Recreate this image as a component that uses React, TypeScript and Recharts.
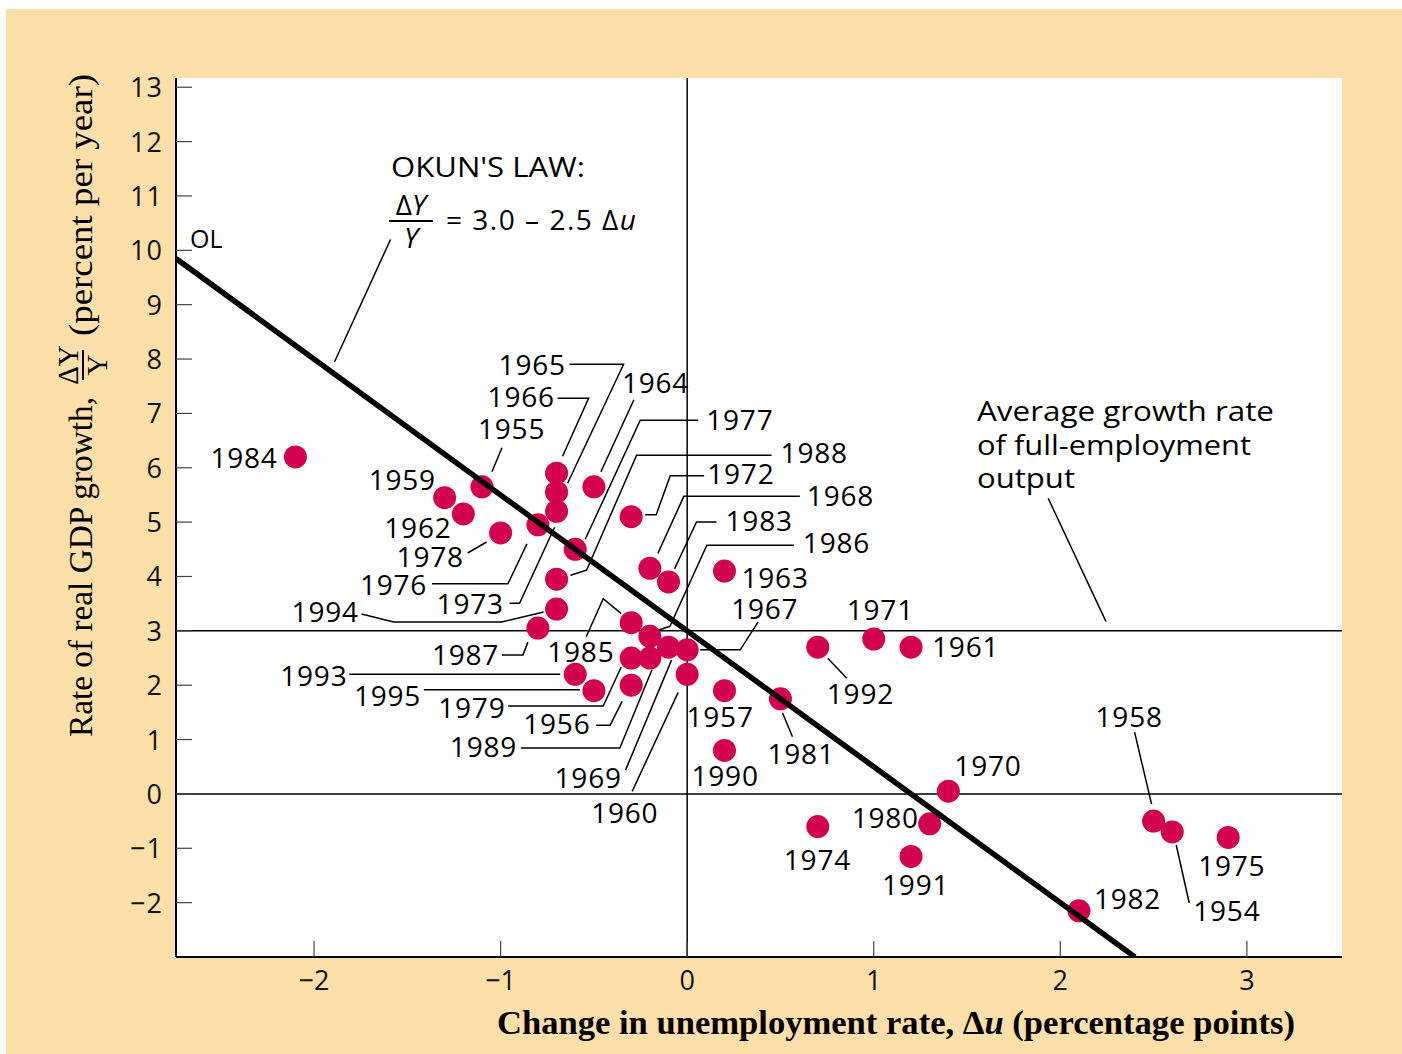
import React from 'react';
import {
  ScatterChart,
  Scatter,
  XAxis,
  YAxis,
  ReferenceLine,
  ReferenceArea,
} from 'recharts';

// Okun's law scatter: change in unemployment (x) vs real GDP growth (y), US 1954-1995
const years = [
  1954, 1955, 1956, 1957, 1958, 1959, 1960, 1961, 1962, 1963, 1964, 1965, 1966, 1967,
  1968, 1969, 1970, 1971, 1972, 1973, 1974, 1975, 1976, 1977, 1978, 1979, 1980, 1981,
  1982, 1983, 1984, 1985, 1986, 1987, 1988, 1989, 1990, 1991, 1992, 1993, 1994, 1995,
];
const unemploymentChange = [
  2.6, -1.1, -0.3, 0.2, 2.5, -1.3, 0, 1.2, -1.2, 0.2, -0.5, -0.7, -0.7, 0,
  -0.2, -0.1, 1.4, 1.0, -0.3, -0.7, 0.7, 2.9, -0.8, -0.6, -1.0, -0.3, 1.3, 0.5,
  2.1, -0.1, -2.1, -0.3, -0.2, -0.8, -0.7, -0.2, 0.2, 1.2, 0.7, -0.6, -0.7, -0.5,
];
const gdpGrowth = [
  -0.7, 5.65, 2.0, 1.9, -0.5, 5.45, 2.2, 2.7, 5.15, 4.1, 5.65, 5.55, 5.9, 2.65,
  4.15, 2.7, 0.05, 2.85, 5.1, 5.2, -0.6, -0.8, 4.95, 4.5, 4.8, 2.5, -0.55, 1.75,
  -2.15, 3.9, 6.2, 3.15, 2.9, 3.05, 3.95, 2.5, 0.8, -1.15, 2.7, 2.2, 3.4, 1.9,
];
const xTicks = [-2, -1, 0, 1, 2, 3];
const yTicks = [-2, -1, 0, 1, 2, 3, 4, 5, 6, 7, 8, 9, 10, 11, 12, 13];

// OL line end points (3.0 - 2.5 du) at the plot edges
const okunLine = [
  { x: -2.74, y: 9.85 },
  { x: 2.4, y: -3 },
];

const points = years.map((year, i) => ({ year, x: unemploymentChange[i], y: gdpGrowth[i] }));

// label placement in px relative to each dot: text left/baseline, then leader polyline
const labelLayout: Record<number, { dx: number; dy: number; leader?: number[][] }> = {
  1954: { dx: 21, dy: 89, leader: [[17, 71], [4, 13]] },
  1955: { dx: -4, dy: -48, leader: [[20, -39], [10, -15]] },
  1956: { dx: -108, dy: 49, leader: [[-35, 40], [-21, 40], [-9, 16]] },
  1957: { dx: -38, dy: 36 },
  1958: { dx: -58, dy: -94, leader: [[-19, -89], [-2, -17]] },
  1959: { dx: -76, dy: -8 },
  1960: { dx: -96, dy: 149, leader: [[-55, 117], [-9, 18]] },
  1961: { dx: 21, dy: 10 },
  1962: { dx: -79, dy: 24 },
  1963: { dx: 17, dy: 17 },
  1964: { dx: 28, dy: -94, leader: [[40, -87], [7, -15]] },
  1965: { dx: -58, dy: -117, leader: [[13, -128], [67, -128], [11, -9]] },
  1966: { dx: -69, dy: -66, leader: [[1, -75], [32, -75], [6, -17]] },
  1967: { dx: 44, dy: -31, leader: [[71, -28], [53, 0], [13, 0]] },
  1968: { dx: 157, dy: -62, leader: [[150, -72], [34, -72], [8, -15]] },
  1969: { dx: -114, dy: 141, leader: [[-43, 123], [3, 13]] },
  1970: { dx: 6, dy: -15 },
  1971: { dx: -27, dy: -19 },
  1972: { dx: 76, dy: -33, leader: [[73, -41], [39, -41], [25, -2], [14, -2]] },
  1973: { dx: -120, dy: 103, leader: [[-47, 92], [-37, 92], [-2, 16]] },
  1974: { dx: -34, dy: 43 },
  1975: { dx: -30, dy: 39 },
  1976: { dx: -178, dy: 70, leader: [[-106, 59], [-30, 59], [-11, 19]] },
  1977: { dx: 131, dy: -119, leader: [[123, -129], [65, -129], [10, -10]] },
  1978: { dx: -104, dy: 34, leader: [[-33, 20], [-14, 9]] },
  1979: { dx: -193, dy: 60, leader: [[-123, 48], [-28, 48], [-10, 9]] },
  1980: { dx: -78, dy: 4 },
  1981: { dx: -13, dy: 65, leader: [[12, 38], [2, 14]] },
  1982: { dx: 15, dy: -2 },
  1983: { dx: 57, dy: -51, leader: [[48, -60], [28, -60], [6, -13]] },
  1984: { dx: -85, dy: 11 },
  1985: { dx: -84, dy: 39, leader: [[-45, 14], [-28, -24], [-10, -9]] },
  1986: { dx: 153, dy: -83, leader: [[144, -91], [57, -91], [20, -10], [8, -6]] },
  1987: { dx: -106, dy: 37, leader: [[-36, 27], [-15, 27], [-10, 14]] },
  1988: { dx: 224, dy: -116, leader: [[215, -124], [80, -124], [30, -9], [14, -4]] },
  1989: { dx: -200, dy: 99, leader: [[-129, 90], [-30, 90], [2, 12]] },
  1990: { dx: -33, dy: 36 },
  1991: { dx: -29, dy: 39 },
  1992: { dx: 9, dy: 57, leader: [[29, 31], [10, 11]] },
  1993: { dx: -295, dy: 12, leader: [[-226, 0], [-15, 0]] },
  1994: { dx: -265, dy: 13, leader: [[-195, 5], [-163, 13], [-55, 13], [-13, 3]] },
  1995: { dx: -240, dy: 15, leader: [[-170, -1], [-14, -1]] },
};

const PEACH = '#FDDFA9';
const DOT = '#D2004F';
const SANS = '"Open Sans", "DejaVu Sans", sans-serif';
const SERIF = '"Liberation Serif", "DejaVu Serif", serif';

const fmt = (v: number) => (v < 0 ? `\u2212${Math.abs(v)}` : `${v}`);

const YTick = ({ x, y, payload }: any) => (
  <g>
    <line x1={x + 13} x2={x + 29} y1={y} y2={y} stroke="#444" strokeWidth={1.2} />
    <text x={x} y={y + 10} textAnchor="end" fontFamily={SANS} fontSize={27} letterSpacing={1} fill="#111">
      {fmt(payload.value)}
    </text>
  </g>
);

const XTick = ({ x, y, payload }: any) => (
  <g>
    <line x1={x} x2={x} y1={y - 14} y2={y - 30} stroke="#444" strokeWidth={1.2} />
    <text x={x} y={y + 19} textAnchor="middle" fontFamily={SANS} fontSize={27} fill="#111">
      {fmt(payload.value)}
    </text>
  </g>
);

const Dot = (props: any) => <circle cx={props.cx} cy={props.cy} r={11.5} fill={DOT} />;

const YearLabel = (props: any) => {
  const { cx, cy, payload } = props;
  const lay = labelLayout[payload.year];
  if (!lay) return <g />;
  return (
    <g>
      {lay.leader && (
        <polyline
          points={lay.leader.map(([px, py]) => `${cx + px},${cy + py}`).join(' ')}
          fill="none"
          stroke="#000"
          strokeWidth={1.5}
        />
      )}
      <text
        x={cx + lay.dx}
        y={cy + lay.dy}
        fontFamily={SANS}
        fontSize={28}
        letterSpacing={0.8}
        fill="#000"
      >
        {payload.year}
      </text>
    </g>
  );
};

const App = () => {
  return (
    <div
      style={{
        position: 'absolute',
        left: 6,
        top: 9,
        width: 1396,
        height: 1045,
        background: PEACH,
      }}
    >
      <ScatterChart width={1396} height={1045} margin={{ top: 69, right: 60, bottom: 0, left: 0 }}>
        <XAxis
          type="number"
          dataKey="x"
          domain={[-2.74, 3.51]}
          ticks={xTicks}
          allowDataOverflow
          height={97}
          tickSize={0}
          tickMargin={14}
          tickLine={false}
          tick={<XTick />}
          axisLine={{ stroke: '#000', strokeWidth: 2 }}
        />
        <YAxis
          type="number"
          dataKey="y"
          domain={[-3, 13.17]}
          ticks={yTicks}
          allowDataOverflow
          width={170}
          tickSize={0}
          tickMargin={13}
          tickLine={false}
          tick={<YTick />}
          axisLine={{ stroke: '#000', strokeWidth: 2 }}
        />
        <ReferenceArea x1={-2.74} x2={3.51} y1={-3} y2={13.17} fill="#fff" fillOpacity={1} stroke="none" />
        <ReferenceLine y={3} stroke="#000" strokeWidth={1.5} />
        <ReferenceLine y={0} stroke="#000" strokeWidth={1.5} />
        <ReferenceLine x={0} stroke="#000" strokeWidth={1.5} />
        {/* leaders for the text notes */}
        <ReferenceLine segment={[{ x: -1.59, y: 10.2 }, { x: -1.89, y: 7.95 }]} stroke="#000" strokeWidth={1.5} />
        <ReferenceLine segment={[{ x: 1.935, y: 5.44 }, { x: 2.245, y: 3.17 }]} stroke="#000" strokeWidth={1.5} />
        <Scatter data={points} shape={YearLabel} isAnimationActive={false} />
        <Scatter data={points} shape={Dot} isAnimationActive={false} />
        <Scatter
          data={okunLine}
          shape={() => <g />}
          line={{ stroke: '#000', strokeWidth: 5.5 }}
          isAnimationActive={false}
        />
      </ScatterChart>

      <svg
        width={1396}
        height={1045}
        style={{ position: 'absolute', left: 0, top: 0, pointerEvents: 'none' }}
      >
        <g transform="translate(-6,-9)" fill="#000">
          <text x={190} y={248} fontFamily={SANS} fontSize={25}>OL</text>
          <text x={391} y={177} fontFamily={SANS} fontSize={28} textLength={194} lengthAdjust="spacingAndGlyphs">
            OKUN'S LAW:
          </text>
          <text x={411} y={215} textAnchor="middle" fontFamily={SANS} fontSize={28}>
            Δ<tspan fontStyle="italic">Y</tspan>
          </text>
          <line x1={389} x2={433} y1={221} y2={221} stroke="#000" strokeWidth={2} />
          <text x={411} y={248} textAnchor="middle" fontFamily={SANS} fontSize={28} fontStyle="italic">Y</text>
          <text x={446} y={230} fontFamily={SANS} fontSize={28} textLength={190} lengthAdjust="spacing">
            = 3.0 – 2.5 Δ<tspan fontStyle="italic">u</tspan>
          </text>

          <text x={977} y={421} fontFamily={SANS} fontSize={28} textLength={297} lengthAdjust="spacingAndGlyphs">
            Average growth rate
          </text>
          <text x={977} y={455} fontFamily={SANS} fontSize={28} textLength={274} lengthAdjust="spacingAndGlyphs">
            of full-employment
          </text>
          <text x={977} y={488} fontFamily={SANS} fontSize={28} textLength={98} lengthAdjust="spacingAndGlyphs">
            output
          </text>

          <text
            x={497}
            y={1034}
            fontFamily={SERIF}
            fontWeight="bold"
            fontSize={33}
            textLength={798}
            lengthAdjust="spacingAndGlyphs"
          >
            Change in unemployment rate, Δ<tspan fontStyle="italic">u</tspan> (percentage points)
          </text>

          <g transform="translate(92,0) rotate(-90)" fontFamily={SERIF} fontSize={34}>
            <text x={-737} y={0} textLength={340} lengthAdjust="spacingAndGlyphs">
              Rate of real GDP growth,
            </text>
            <text x={-365} y={-14} textAnchor="middle" fontSize={29}>ΔY</text>
            <line x1={-380} x2={-350} y1={-9} y2={-9} stroke="#000" strokeWidth={2} />
            <text x={-365} y={15} textAnchor="middle" fontSize={29}>Y</text>
            <text x={-336} y={0} textLength={262} lengthAdjust="spacingAndGlyphs">
              (percent per year)
            </text>
          </g>
        </g>
      </svg>
    </div>
  );
};

export default App;
